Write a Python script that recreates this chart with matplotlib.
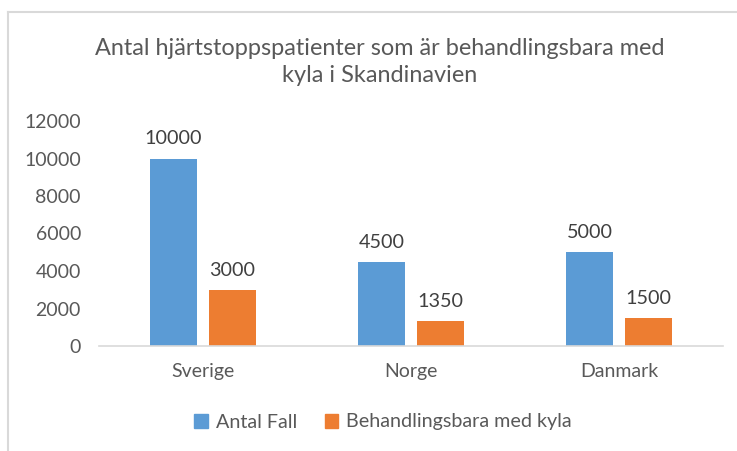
import matplotlib
matplotlib.use("Agg")
import matplotlib.pyplot as plt
from matplotlib.lines import Line2D
from matplotlib.patches import Patch
import numpy as np

categories = ["Sverige", "Norge", "Danmark"]
antal_fall = [10000, 4500, 5000]
behandlingsbara = [3000, 1350, 1500]
series_names = ["Antal Fall", "Behandlingsbara med kyla"]
title = "Antal hjärtstoppspatienter som är behandlingsbara med\nkyla i Skandinavien"
yticks = [0, 2000, 4000, 6000, 8000, 10000, 12000]

plt.rcParams['font.family'] = ['Lato', 'DejaVu Sans']
blue = "#5B9BD5"
orange = "#ED7D31"
txt = "#595959"

fig = plt.figure(figsize=(7.37, 4.51), dpi=100)
ax = fig.add_axes([99/737, 1-346/451, (723-99)/737, (346-121)/451])

x = np.arange(len(categories))
w = 0.228
off = 0.142
b1 = ax.bar(x - off, antal_fall, w, color=blue, label=series_names[0])
b2 = ax.bar(x + off, behandlingsbara, w, color=orange, label=series_names[1])
for bars, vals in ((b1, antal_fall), (b2, behandlingsbara)):
    for r, v in zip(bars, vals):
        ax.annotate(f"{v}", (r.get_x() + r.get_width()/2, v), xytext=(0, 8),
                    textcoords="offset points", ha="center", va="bottom",
                    fontsize=14.2, color="#404040")

ax.set_xlim(-0.5, 2.5)
ax.set_ylim(0, 12000)
ax.set_yticks(yticks)
ax.set_yticklabels([str(t) for t in yticks])
ax.set_xticks(x)
ax.set_xticklabels(categories)
ax.tick_params(axis='y', length=0, labelsize=14, labelcolor=txt, pad=13)
ax.tick_params(axis='x', length=0, labelsize=14, labelcolor=txt, pad=12)
for s in ['top', 'right', 'left']:
    ax.spines[s].set_visible(False)
ax.spines['bottom'].set_color("#D9D9D9")
ax.spines['bottom'].set_linewidth(1.2)

fig.text(380/737, 1-62/451, title, ha="center", va="center", fontsize=16.9,
         color=txt, linespacing=1.4)

handles = [Patch(color=blue), Patch(color=orange)]
fig.legend(handles, series_names, loc="center", bbox_to_anchor=(383/737, 1-422/451),
           ncol=2, frameon=False, fontsize=14.2, labelcolor=txt,
           handlelength=0.7, handleheight=0.7, handletextpad=0.4, columnspacing=1.4)

# chart border (screenshot crop)
fig.add_artist(Line2D([8/737, 8/737], [0, 1-12/451], transform=fig.transFigure,
                      color="#D9D9D9", lw=1.5))
fig.add_artist(Line2D([8/737, 1], [1-12/451, 1-12/451], transform=fig.transFigure,
                      color="#D9D9D9", lw=1.5))

fig.savefig("out.png", dpi=100)
